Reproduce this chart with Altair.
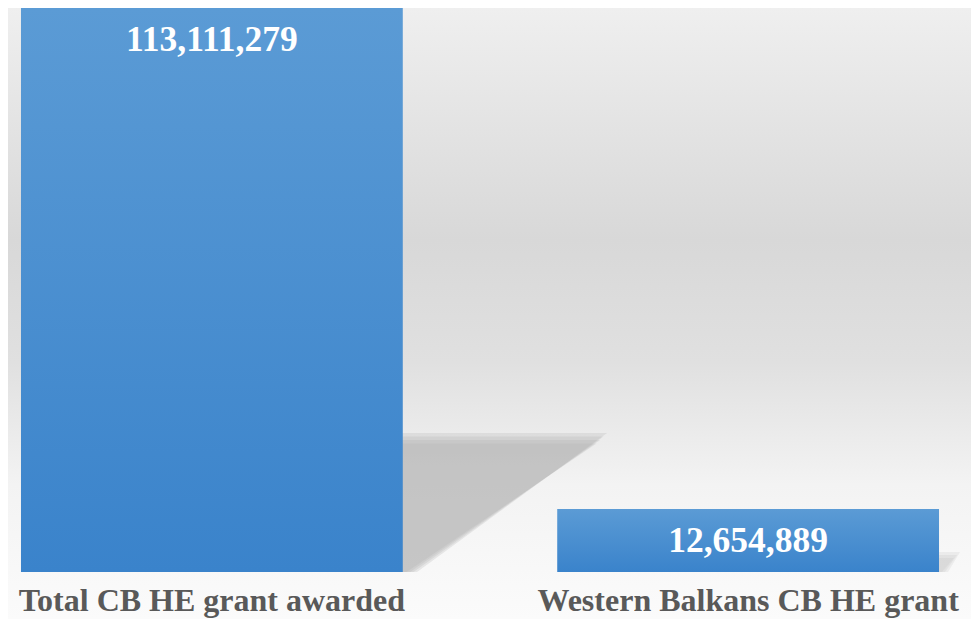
import altair as alt
import pandas as pd

categories = ["Total CB HE grant awarded", "Western Balkans CB HE grant"]
values = [113111279, 12654889]
labels = ["113,111,279", "12,654,889"]

df = pd.DataFrame({"category": categories, "value": values, "label": labels,
                   "zero": [0, 0]})

W, H = 944, 564
PAD = {"left": 0, "top": 0, "right": 19, "bottom": 47}

x_scale = alt.Scale(type="band", domain=categories, paddingInner=0.288, paddingOuter=0.0242)
y_scale = alt.Scale(domain=[0, values[0]], nice=False, zero=True)

# ---- decorative background gradient ----
bg_grad = {
    "gradient": "linear", "x1": 0, "y1": 0, "x2": 0, "y2": 1,
    "stops": [
        {"color": "#efefef", "offset": 0},
        {"color": "#d8d8d8", "offset": 0.38},
        {"color": "#e0e0e0", "offset": 0.58},
        {"color": "#f3f3f3", "offset": 0.78},
        {"color": "#fbfbfb", "offset": 1},
    ],
}
background = alt.Chart(df.iloc[[0]]).mark_rect(fill=bg_grad, strokeWidth=0).encode(
    x=alt.value(0), x2=alt.value(W + PAD["right"]),
    y=alt.value(0), y2=alt.value(H + PAD["bottom"]),
)

# ---- decorative perspective shadow of the tall bar (pixel x, data y) ----
unit = values[0] / H  # one pixel in data units
top = values[0] * 0.234
px_scale = alt.Scale(domain=[0, W], nice=False, zero=False)


def shadow_layer(e, color, opacity):
    d = pd.DataFrame({
        "sx": [390, 402 + e, 592 + e],
        "lo": [0, 0, top + e * unit],
        "hi": [top + e * unit] * 3,
    })
    return alt.Chart(d).mark_area(color=color, opacity=opacity).encode(
        x=alt.X("sx:Q", scale=px_scale, axis=None),
        y=alt.Y("lo:Q", scale=y_scale, axis=None),
        y2="hi:Q",
    )


shadows = [shadow_layer(e, "#aeaeae", 0.25) for e in (7, 3.5, 0, -3.5)]


def small_shadow_layer(e, opacity):
    d = pd.DataFrame({"sx": [928, 934 + e, 946 + e],
                      "lo": [0, 0, (14 + e) * unit],
                      "hi": [(14 + e) * unit] * 3})
    return alt.Chart(d).mark_area(color="#b8b8b8", opacity=opacity).encode(
        x=alt.X("sx:Q", scale=px_scale, axis=None),
        y=alt.Y("lo:Q", scale=y_scale, axis=None),
        y2="hi:Q",
    )


small_shadows = [small_shadow_layer(e, 0.18) for e in (6, 3, 0)]

# ---- bars ----
bar_grad = {
    "gradient": "linear", "x1": 0, "y1": 0, "x2": 0, "y2": 1,
    "stops": [
        {"color": "#5b9bd5", "offset": 0},
        {"color": "#3a83cb", "offset": 1},
    ],
}
bars = alt.Chart(df).mark_bar(fill=bar_grad).encode(
    x=alt.X("category:N", scale=x_scale, sort=categories, axis=None),
    y=alt.Y("value:Q", scale=y_scale, axis=None),
)

text = alt.Chart(df).mark_text(
    font="Liberation Serif", fontSize=35.5, fontWeight="bold", color="white",
    baseline="middle", dy=32,
).encode(
    x=alt.X("category:N", scale=x_scale, sort=categories, axis=None),
    y=alt.Y("value:Q", scale=y_scale, axis=None),
    text="label:N",
)

cat_labels = alt.Chart(df).mark_text(
    font="Liberation Serif", fontSize=32, fontWeight="bold", color="#595959",
    baseline="alphabetic", dy=39,
).encode(
    x=alt.X("category:N", scale=x_scale, sort=categories, axis=None),
    y=alt.Y("zero:Q", scale=y_scale, axis=None),
    text="category:N",
)

chart = alt.layer(background, *shadows, *small_shadows, bars, text, cat_labels).resolve_scale(
    x="independent"
).properties(
    width=W, height=H, padding=PAD, autosize=alt.AutoSizeParams(type="none"),
).configure_view(strokeWidth=0)

chart.save("out.html", embed_options={"renderer": "svg", "actions": False})
